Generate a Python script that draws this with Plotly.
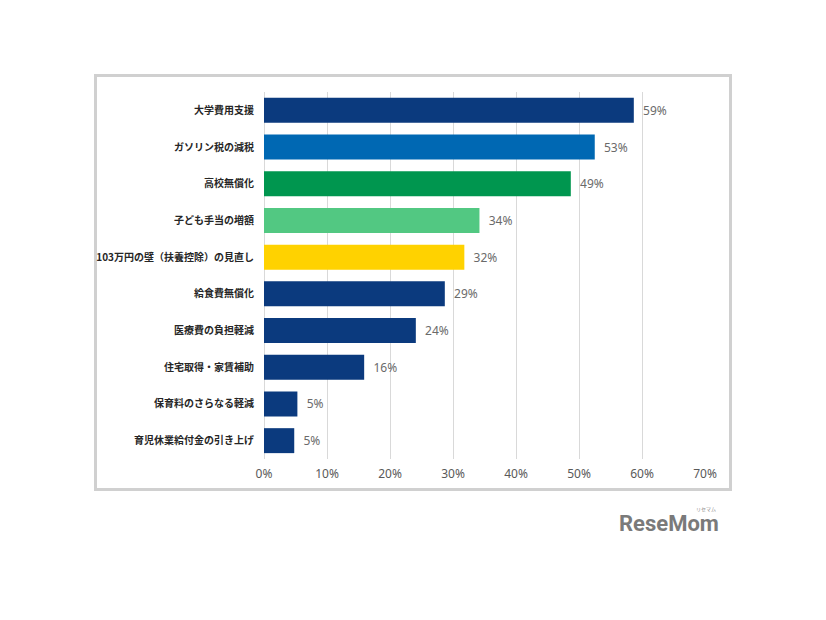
import plotly.graph_objects as go

categories = [
    "大学費用支援",
    "ガソリン税の減税",
    "高校無償化",
    "子ども手当の増額",
    "103万円の壁（扶養控除）の見直し",
    "給食費無償化",
    "医療費の負担軽減",
    "住宅取得・家賃補助",
    "保育料のさらなる軽減",
    "育児休業給付金の引き上げ",
]
values = [58.7, 52.5, 48.7, 34.2, 31.8, 28.7, 24.1, 15.9, 5.3, 4.8]
value_labels = ["59%", "53%", "49%", "34%", "32%", "29%", "24%", "16%", "5%", "5%"]
bar_colors = ["#0b3a7e", "#0068b3", "#00964f", "#52c882", "#ffd200",
              "#0b3a7e", "#0b3a7e", "#0b3a7e", "#0b3a7e", "#0b3a7e"]
tick_vals = [0, 10, 20, 30, 40, 50, 60, 70]
tick_text = ["0%", "10%", "20%", "30%", "40%", "50%", "60%", "70%"]

OFF = 8  # page body margin
W, H = 826 - 2 * OFF, 620 - 2 * OFF
L, R, T, B = 264 - OFF, 705 - OFF, 92 - OFF, 459 - OFF

fig = go.Figure(go.Bar(
    x=values, y=categories, orientation="h",
    marker=dict(color=bar_colors, line=dict(width=0)),
    width=0.68,
    text=value_labels, texttemplate="  %{text}", textposition="outside",
    textfont=dict(family="Noto Sans, Open Sans, sans-serif", size=12, color="#6a6a6a"),
    cliponaxis=False,
    hoverinfo="skip",
))

def px(x):
    return (x - OFF - L) / (R - L)

def py(y):
    return (B - (y - OFF)) / (B - T)

fig.update_layout(
    width=W, height=H,
    margin=dict(l=L, r=W - R, t=T, b=H - B, pad=0),
    paper_bgcolor="white", plot_bgcolor="white",
    showlegend=False,
    font=dict(family="Noto Sans CJK JP, Noto Sans, sans-serif"),
    xaxis=dict(
        range=[0, 70], tickvals=tick_vals, ticktext=tick_text,
        showgrid=True, gridcolor="#d9d9d9", gridwidth=1,
        zeroline=True, zerolinecolor="#d9d9d9", zerolinewidth=1,
        showline=False, ticks="",
        tickfont=dict(family="Noto Sans, Open Sans, sans-serif", size=12, color="#595959"),
        ticklabelstandoff=6,
        fixedrange=True,
    ),
    yaxis=dict(
        categoryorder="array", categoryarray=categories,
        autorange="reversed",
        range=[9.5, -0.5],
        showgrid=False, zeroline=False, showline=False, ticks="",
        tickfont=dict(family="Noto Sans CJK JP", size=10, color="#262626", weight="bold"),
        ticklabelstandoff=9,
        fixedrange=True,
    ),
    shapes=[dict(
        type="rect", xref="paper", yref="paper",
        x0=px(95.5), x1=px(730.5), y0=py(489.5), y1=py(75.5),
        line=dict(color="#d0d0d0", width=3), fillcolor="rgba(0,0,0,0)",
        layer="below",
    )],
    annotations=[
        dict(text="<b>ReseMom</b>", xref="paper", yref="paper",
             x=px(721), y=py(523), xanchor="right", yanchor="middle",
             showarrow=False,
             font=dict(family="Roboto, Noto Sans, sans-serif", size=22, color="#7a7a7a")),
        dict(text="リセマム", xref="paper", yref="paper",
             x=px(717), y=py(509), xanchor="right", yanchor="middle",
             showarrow=False, borderpad=0,
             font=dict(family="Noto Sans CJK JP", size=5, color="#8a8a8a")),
    ],
)

fig.write_html("out.html")
